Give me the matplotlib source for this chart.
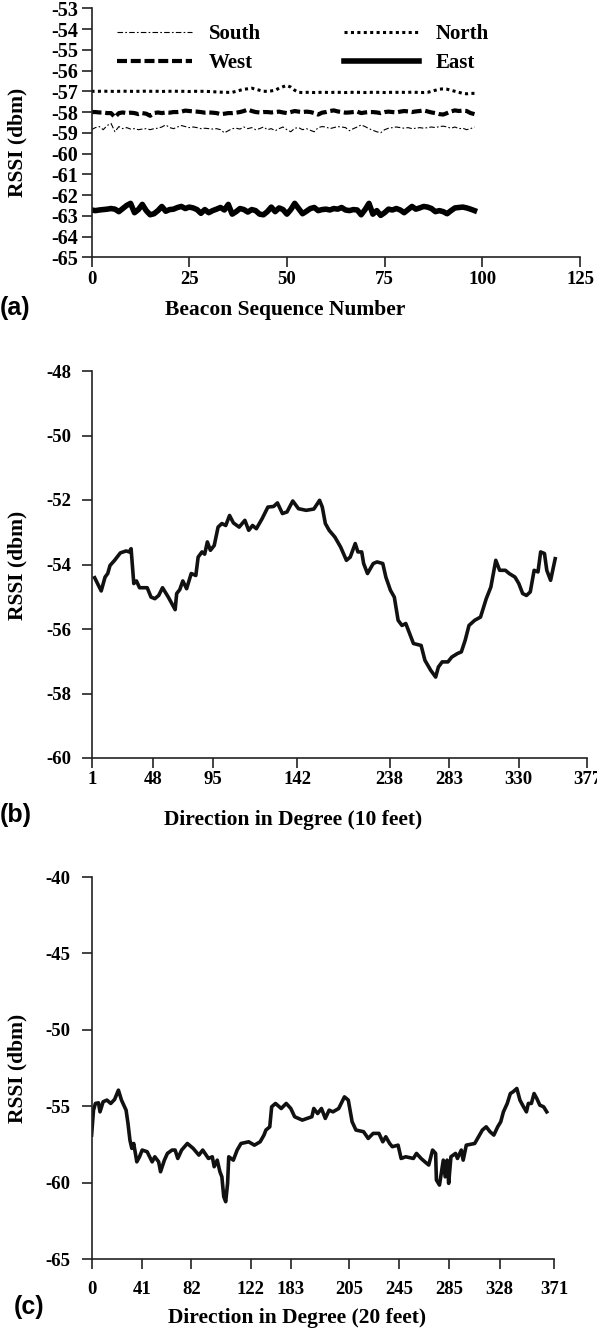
import matplotlib
matplotlib.use("Agg")
import matplotlib.pyplot as plt
import numpy as np

plt.rcParams['axes.unicode_minus'] = False
SERIF = ['Liberation Serif', 'DejaVu Serif']
SANS = ['Liberation Sans', 'DejaVu Sans']

# ---------------- Panel (a) data ----------------
beacon_seq = list(range(99))

north = [-57.00, -57.00, -57.00, -56.99, -57.00, -57.00, -57.01, -57.00, -56.99, -57.00,
         -57.00, -57.01, -57.00, -57.00, -56.99, -57.00, -57.00, -57.00, -57.01, -57.00,
         -57.00, -56.99, -57.00, -57.00, -57.00, -57.01, -57.00, -57.00, -57.00, -57.00,
         -57.01, -57.02, -57.03, -57.04, -57.05, -57.05, -57.05, -57.00, -56.95, -56.90,
         -56.88, -56.85, -56.90, -56.95, -57.00, -57.00, -56.98, -56.95, -56.85, -56.78,
         -56.72, -56.80, -56.95, -57.05, -57.06, -57.05, -57.05, -57.06, -57.05, -57.05,
         -57.05, -57.06, -57.05, -57.05, -57.05, -57.06, -57.05, -57.05, -57.05, -57.05,
         -57.06, -57.05, -57.05, -57.05, -57.05, -57.06, -57.05, -57.05, -57.05, -57.05,
         -57.05, -57.05, -57.04, -57.05, -57.05, -57.06, -57.05, -57.00, -56.95, -56.90,
         -56.88, -56.90, -56.95, -57.00, -57.05, -57.10, -57.12, -57.10, -57.10]

west = [-58.00, -58.00, -58.02, -58.02, -58.05, -58.05, -58.25, -58.05, -58.02, -58.05,
        -58.03, -58.05, -58.10, -58.05, -58.08, -58.18, -58.05, -58.02, -58.05, -58.02,
        -58.03, -58.00, -58.00, -57.98, -57.93, -57.95, -57.97, -57.98, -58.00, -58.03,
        -58.02, -58.03, -58.05, -58.10, -58.08, -58.05, -58.05, -58.03, -58.00, -57.95,
        -57.88, -57.95, -58.00, -58.02, -58.00, -58.00, -58.02, -58.00, -57.98, -58.02,
        -58.05, -58.00, -57.95, -57.98, -58.00, -57.98, -58.00, -58.05, -58.12, -58.03,
        -58.00, -57.95, -57.92, -57.97, -58.00, -58.03, -58.02, -58.00, -57.98, -58.05,
        -58.02, -58.00, -58.00, -58.02, -58.05, -58.00, -57.98, -58.00, -58.02, -57.98,
        -57.95, -57.97, -58.00, -57.97, -57.95, -57.92, -57.97, -58.02, -58.05, -58.10,
        -58.12, -58.05, -57.97, -57.92, -57.95, -57.93, -57.95, -58.05, -58.10]

south = [-58.85, -58.75, -58.70, -58.85, -58.65, -58.55, -58.95, -58.70, -58.80, -58.75,
         -58.82, -58.80, -58.85, -58.82, -58.80, -58.85, -58.80, -58.78, -58.72, -58.62,
         -58.75, -58.80, -58.72, -58.65, -58.70, -58.75, -58.72, -58.75, -58.80, -58.78,
         -58.80, -58.82, -58.80, -58.85, -59.00, -58.90, -58.80, -58.78, -58.82, -58.72,
         -58.80, -58.75, -58.85, -58.80, -58.72, -58.85, -58.80, -58.90, -58.80, -58.72,
         -58.85, -58.95, -58.78, -58.75, -58.85, -58.80, -58.88, -58.95, -58.75, -58.70,
         -58.72, -58.80, -58.75, -58.70, -58.72, -58.75, -58.90, -58.80, -58.72, -58.62,
         -58.70, -58.80, -58.88, -58.95, -59.00, -58.85, -58.78, -58.75, -58.72, -58.75,
         -58.78, -58.75, -58.80, -58.78, -58.75, -58.78, -58.75, -58.72, -58.75, -58.70,
         -58.68, -58.72, -58.78, -58.72, -58.80, -58.78, -58.85, -58.80, -58.72]

east = [-62.72, -62.75, -62.72, -62.70, -62.68, -62.65, -62.68, -62.80, -62.65, -62.50,
        -62.40, -62.85, -62.70, -62.45, -62.75, -62.95, -62.90, -62.75, -62.55, -62.78,
        -62.70, -62.68, -62.60, -62.55, -62.65, -62.58, -62.62, -62.70, -62.88, -62.70,
        -62.85, -62.75, -62.68, -62.60, -62.72, -62.45, -62.92, -62.80, -62.65, -62.70,
        -62.82, -62.70, -62.75, -62.92, -62.95, -62.80, -62.58, -62.80, -62.62, -62.70,
        -62.92, -62.70, -62.40, -62.65, -62.90, -62.78, -62.65, -62.60, -62.75, -62.70,
        -62.68, -62.72, -62.65, -62.68, -62.60, -62.72, -62.75, -62.70, -62.72, -62.95,
        -62.70, -62.40, -62.92, -62.75, -62.98, -62.85, -62.68, -62.72, -62.65, -62.72,
        -62.85, -62.70, -62.55, -62.68, -62.62, -62.55, -62.58, -62.65, -62.80, -62.75,
        -62.80, -62.90, -62.75, -62.62, -62.60, -62.58, -62.62, -62.68, -62.75]

a_xticks = [0, 25, 50, 75, 100, 125]
a_yticks = list(range(-65, -52))

# ---------------- Panel (b) data (10 feet) ----------------
# x: position along the category axis (0..100), y: RSSI
b_pos = [0.46, 1.78, 2.56, 3.10, 3.56, 4.49, 5.65, 6.82, 7.44, 7.82,
         8.37, 8.91, 9.53, 11.08, 11.85, 12.63, 13.40, 14.18, 15.34, 16.73,
         17.04, 17.66, 18.28, 19.05, 19.98, 20.91, 21.38, 22.15, 22.70, 23.24,
         23.86, 24.63, 25.41, 26.18, 26.96, 27.73, 28.51, 29.67, 30.83, 31.60,
         32.38, 33.15, 34.31, 35.48, 36.64, 37.41, 38.42, 39.35, 40.51, 41.67,
         43.22, 44.77, 45.93, 46.48, 47.10, 47.87, 49.03, 50.19, 51.36, 52.13,
         53.14, 53.68, 54.45, 54.84, 55.62, 56.78, 57.55, 58.71, 59.33, 60.26,
         61.04, 61.81, 62.59, 63.36, 64.91, 66.46, 67.23, 68.40, 69.40, 69.95,
         70.72, 71.88, 72.66, 73.82, 74.59, 75.37, 76.14, 77.30, 78.47, 79.63,
         80.56, 81.56, 82.34, 83.50, 84.27, 85.44, 86.21, 86.99, 87.76, 88.53,
         89.31, 90.09, 90.63, 91.40, 91.87, 92.64, 93.57]
b_rssi = [-54.41, -54.82, -54.39, -54.28, -54.03, -53.87, -53.64, -53.58, -53.61, -53.51,
          -54.59, -54.51, -54.72, -54.72, -55.01, -55.06, -54.96, -54.72, -55.01, -55.40,
          -54.90, -54.78, -54.51, -54.75, -54.28, -54.34, -53.77, -53.61, -53.68, -53.30,
          -53.56, -53.41, -52.84, -52.73, -52.79, -52.48, -52.71, -52.84, -52.63, -52.94,
          -52.79, -52.89, -52.58, -52.22, -52.20, -52.09, -52.42, -52.37, -52.03, -52.27,
          -52.32, -52.28, -52.01, -52.22, -52.73, -52.94, -53.15, -53.46, -53.87, -53.77,
          -53.35, -53.61, -53.61, -53.97, -54.28, -53.97, -53.92, -53.97, -54.39, -54.80,
          -55.01, -55.73, -55.89, -55.83, -56.45, -56.51, -56.97, -57.28, -57.49, -57.18,
          -57.02, -57.02, -56.87, -56.76, -56.71, -56.35, -55.89, -55.73, -55.63, -55.06,
          -54.70, -53.87, -54.18, -54.18, -54.28, -54.39, -54.59, -54.90, -54.96, -54.85,
          -54.18, -54.23, -53.61, -53.66, -54.18, -54.49, -53.82]
b_tick_pos = [0, 12.24, 24.32, 41.44, 60.11, 72.11, 86.21, 100]
b_tick_labels = ['1', '48', '95', '142', '238', '283', '330', '377']
b_yticks = [-60, -58, -56, -54, -52, -50, -48]

# ---------------- Panel (c) data (20 feet) ----------------
c_pos = [0.00, 0.41, 0.83, 1.49, 1.82, 2.49, 3.31, 4.14, 4.97, 5.80,
         6.46, 7.46, 7.87, 8.29, 8.70, 9.11, 9.78, 10.36, 10.94, 12.01,
         13.09, 13.67, 14.50, 14.91, 15.74, 16.40, 17.40, 18.06, 18.64, 19.47,
         20.71, 21.96, 23.20, 24.03, 25.27, 26.10, 26.51, 27.17, 27.75, 28.17,
         28.58, 29.00, 29.41, 29.66, 30.65, 31.48, 32.31, 33.97, 35.21, 36.45,
         37.28, 37.70, 38.53, 38.94, 39.77, 41.01, 42.09, 43.08, 43.91, 45.57,
         47.64, 48.05, 48.88, 49.71, 50.54, 51.37, 52.20, 53.44, 54.68, 55.51,
         56.34, 57.17, 58.82, 59.82, 60.89, 62.14, 62.97, 63.63, 64.46, 65.04,
         66.28, 66.94, 67.94, 69.59, 70.26, 71.25, 72.08, 72.91, 73.74, 74.40,
         74.57, 75.23, 76.06, 76.47, 76.88, 77.22, 77.71, 78.71, 79.12, 79.95,
         80.36, 81.03, 82.85, 84.51, 85.34, 86.16, 86.99, 87.82, 88.48, 89.06,
         89.89, 90.56, 91.14, 91.96, 92.63, 93.21, 94.04, 94.45, 95.11, 95.69,
         96.27, 96.93, 97.76, 98.43]
c_rssi = [-56.89, -55.26, -54.82, -54.78, -55.37, -54.71, -54.60, -54.82, -54.56, -53.95,
          -54.60, -55.26, -56.13, -57.22, -57.76, -57.44, -58.64, -58.31, -57.87, -57.98,
          -58.64, -58.31, -58.64, -59.29, -58.53, -58.09, -57.87, -57.87, -58.42, -57.87,
          -57.44, -57.76, -58.20, -57.87, -58.42, -58.31, -58.96, -58.53, -59.29, -59.62,
          -60.92, -61.25, -60.05, -58.31, -58.53, -57.87, -57.44, -57.33, -57.55, -57.33,
          -56.89, -56.56, -56.35, -55.04, -54.82, -55.15, -54.82, -55.15, -55.69, -55.91,
          -55.69, -55.15, -55.48, -55.15, -55.80, -55.26, -55.37, -55.15, -54.39, -54.60,
          -56.02, -56.56, -56.67, -57.11, -56.78, -56.78, -57.33, -57.00, -57.44, -57.65,
          -57.55, -58.42, -58.31, -58.42, -58.09, -58.42, -58.64, -58.85, -57.87, -58.09,
          -59.83, -60.16, -58.53, -59.62, -58.53, -60.05, -58.31, -58.09, -58.42, -57.87,
          -58.53, -57.55, -57.44, -56.56, -56.35, -56.67, -56.89, -56.35, -56.02, -55.37,
          -54.82, -54.17, -54.06, -53.84, -54.60, -54.93, -55.37, -54.82, -54.82, -54.17,
          -54.49, -54.93, -55.04, -55.37]
c_tick_pos = [0, 10.94, 21.54, 34.38, 43.08, 55.76, 66.53, 77.30, 88.24, 100]
c_tick_labels = ['0', '41', '82', '122', '183', '205', '245', '285', '328', '371']
c_yticks = [-65, -60, -55, -50, -45, -40]

# ---------------- Figure ----------------
W, H = 597, 1341
fig = plt.figure(figsize=(W / 100, H / 100), dpi=100)

def px_axes(left, top, right, bottom):
    return fig.add_axes([left / W, 1 - bottom / H, (right - left) / W, (bottom - top) / H])

def fx(x):
    return x / W

def fy(y):
    return 1 - y / H

TICK_FS = 13.5
LABEL_FS = 15.5

def style(ax, xpad, ypad, ytick_fs=TICK_FS):
    for s in ['top', 'right']:
        ax.spines[s].set_visible(False)
    for s in ['left', 'bottom']:
        ax.spines[s].set_linewidth(1.2)
        ax.spines[s].set_color('#222222')
    ax.tick_params(direction='out', length=7, width=1.2, color='#222222')
    ax.tick_params(axis='x', pad=xpad)
    ax.tick_params(axis='y', pad=ypad)
    for lab in ax.get_xticklabels():
        lab.set_fontfamily(SERIF)
        lab.set_fontweight('bold')
        lab.set_fontsize(TICK_FS)
    for lab in ax.get_yticklabels():
        lab.set_fontfamily(SERIF)
        lab.set_fontweight('bold')
        lab.set_fontsize(ytick_fs)

def axis_labels(xlabel, xc, yc, ylab_y):
    fig.text(fx(xc), fy(yc), xlabel, fontfamily=SERIF, fontweight='bold', fontsize=LABEL_FS,
             ha='center', va='center')
    fig.text(fx(17), fy(ylab_y), 'RSSI (dbm)', fontfamily=SERIF, fontweight='bold',
             fontsize=LABEL_FS, rotation=90, ha='center', va='center')

# Panel (a)
axa = px_axes(91.5, 8.3, 580, 257.3)
axa.plot(beacon_seq, south, color='black', lw=0.8, ls=(0, (5, 2, 1.5, 2)), label='South')
axa.plot(beacon_seq, west, color='black', lw=3.0, ls=(0, (2.4, 0.9)), label='West')
axa.plot(beacon_seq, north, color='black', lw=2.2, ls=(0, (1, 1.1)), label='North')
axa.plot(beacon_seq, east, color='black', lw=4.0, solid_joinstyle='round', label='East')
axa.set_xlim(0, 125)
axa.set_ylim(-65, -53)
axa.set_xticks(a_xticks)
axa.set_yticks(a_yticks)
style(axa, xpad=3, ypad=2.5, ytick_fs=14.5)
axis_labels('Beacon Sequence Number', 285, 310, 142)
leg = axa.legend(loc='upper left', bbox_to_anchor=(fx(117), fy(24)), bbox_transform=fig.transFigure,
                 ncol=2, frameon=False, handlelength=3.6, handletextpad=0.8, columnspacing=4.0,
                 labelspacing=0.45, borderpad=0, borderaxespad=0,
                 prop={'family': SERIF, 'weight': 'bold', 'size': 15})

# Panel (b)
axb = px_axes(92.4, 371, 587, 758)
axb.plot(b_pos, b_rssi, color='#111111', lw=2.6, solid_joinstyle='round')
axb.set_xlim(0, 100)
axb.set_ylim(-60, -48)
axb.set_xticks(b_tick_pos)
axb.set_xticklabels(b_tick_labels)
axb.set_yticks(b_yticks)
style(axb, xpad=2, ypad=8)
axis_labels('Direction in Degree (10 feet)', 293, 820, 565)

# Panel (c)
axc = px_axes(91.6, 877, 554, 1259)
axc.plot(c_pos, c_rssi, color='#111111', lw=2.6, solid_joinstyle='round')
axc.set_xlim(0, 100)
axc.set_ylim(-65, -40)
axc.set_xticks(c_tick_pos)
axc.set_xticklabels(c_tick_labels)
axc.set_yticks(c_yticks)
style(axc, xpad=9, ypad=8)
axis_labels('Direction in Degree (20 feet)', 297, 1318, 1068)

# Panel letters
for letter, ypx, xpx in [('(a)', 308, 0), ('(b)', 815, 0), ('(c)', 1307, 14)]:
    fig.text(fx(xpx), fy(ypx), letter, fontfamily=SANS, fontweight='bold', fontsize=18,
             ha='left', va='center')

fig.savefig('out.png', dpi=100)
